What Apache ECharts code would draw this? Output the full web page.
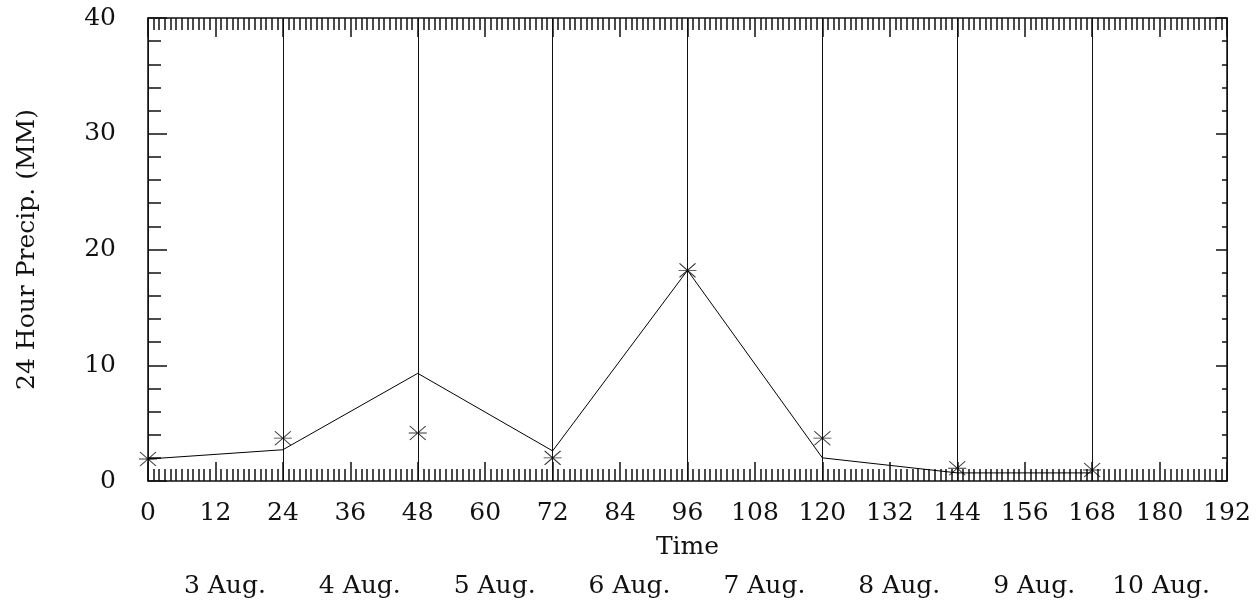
<!DOCTYPE html>
<html>
<head>
<meta charset="utf-8">
<script src="https://cdn.jsdelivr.net/npm/echarts@6.0.0/dist/echarts.min.js"></script>
<style>
  html, body { margin: 0; padding: 0; background: #fff; }
  #chart { width: 1257px; height: 605px; }
</style>
</head>
<body>
<div id="chart"></div>
<script>
// forecast hours (every 24 h) and the two series
var hours = [0, 24, 48, 72, 96, 120, 144, 168];
var precipLine = [1.9, 2.7, 9.3, 2.6, 18.2, 2.0, 0.7, 0.7];
var precipStars = [1.9, 3.7, 4.15, 2.0, 18.2, 3.7, 1.1, 0.95];
// day labels sit under each 24 h block (right aligned to the block end)
var dayLabels = ['3 Aug.', '4 Aug.', '5 Aug.', '6 Aug.', '7 Aug.', '8 Aug.', '9 Aug.', '10 Aug.'];

var FONT = 'DejaVu Serif';
var FS = 25;
var INK = '#111';

function pairs(xs, ys) {
    var out = [];
    for (var i = 0; i < xs.length; i++) {
        out.push([xs[i], ys[i]]);
    }
    return out;
}

var chart = echarts.init(document.getElementById('chart'));

var hourAxis = {
    type: 'value',
    min: 0,
    max: 192,
    interval: 12,
    axisLine: { show: true, onZero: false, lineStyle: { color: INK, width: 1.5 } },
    axisTick: { show: true, inside: true, length: 19, lineStyle: { color: INK, width: 1.5 } },
    minorTick: { show: true, splitNumber: 12, length: 12, lineStyle: { color: INK, width: 1.5 } },
    splitLine: { show: false },
    minorSplitLine: { show: false }
};

var options = {
    backgroundColor: '#fff',
    animation: false,
    grid: {
        left: 148,
        right: 30,
        top: 18,
        bottom: 124,
        containLabel: false
    },
    xAxis: [
        echarts.util.merge({
            position: 'bottom',
            name: 'Time',
            nameLocation: 'middle',
            nameGap: 54,
            nameTextStyle: { fontFamily: FONT, fontSize: FS, color: INK },
            axisLabel: { show: true, margin: 20, fontFamily: FONT, fontSize: FS, color: INK }
        }, hourAxis, true),
        echarts.util.merge({
            position: 'top',
            axisLabel: { show: false }
        }, hourAxis, true),
        {
            // day axis: full height lines every 24 h plus the date row
            type: 'value',
            position: 'bottom',
            min: 0,
            max: 192,
            interval: 24,
            axisLine: { show: false },
            axisTick: { show: false },
            splitLine: { show: true, lineStyle: { color: INK, width: 1 } },
            axisLabel: {
                show: true,
                margin: 93,
                align: 'right',
                padding: [0, 17, 0, 0],
                showMinLabel: true,
                showMaxLabel: true,
                fontFamily: FONT,
                fontSize: FS,
                color: INK,
                formatter: function (v) {
                    var k = Math.round(v / 24) - 1;
                    return k >= 0 && k < dayLabels.length ? dayLabels[k] : '';
                }
            }
        }
    ],
    yAxis: [
        {
            type: 'value',
            position: 'left',
            min: 0,
            max: 40,
            interval: 10,
            name: '24 Hour Precip. (MM)',
            nameLocation: 'middle',
            nameGap: 108,
            nameRotate: 90,
            nameTextStyle: { fontFamily: FONT, fontSize: FS, color: INK },
            axisLine: { show: true, onZero: false, lineStyle: { color: INK, width: 1.5 } },
            axisTick: { show: true, inside: true, length: 19, lineStyle: { color: INK, width: 1.5 } },
            minorTick: { show: true, splitNumber: 5, length: 13, lineStyle: { color: INK, width: 1.5 } },
            splitLine: { show: false },
            axisLabel: { margin: 32, fontFamily: FONT, fontSize: FS, color: INK }
        },
        {
            type: 'value',
            position: 'right',
            min: 0,
            max: 40,
            interval: 10,
            axisLine: { show: true, onZero: false, lineStyle: { color: INK, width: 1.5 } },
            axisTick: { show: true, inside: true, length: 11, lineStyle: { color: INK, width: 1.5 } },
            minorTick: { show: true, splitNumber: 5, length: 5, lineStyle: { color: INK, width: 1.5 } },
            splitLine: { show: false },
            axisLabel: { show: false }
        }
    ],
    series: [
        {
            name: 'precip',
            type: 'line',
            xAxisIndex: 0,
            yAxisIndex: 0,
            data: pairs(hours, precipLine),
            showSymbol: false,
            symbol: 'none',
            lineStyle: { color: '#000', width: 1 },
            z: 5
        },
        {
            name: 'observed',
            type: 'scatter',
            xAxisIndex: 0,
            yAxisIndex: 0,
            data: pairs(hours, precipStars),
            symbol: 'path://M0,7L18,7M1,1L17,13M1,13L17,1',
            symbolSize: [18, 14],
            itemStyle: { color: 'none', borderColor: '#000', borderWidth: 1 },
            z: 6
        }
    ]
};

chart.setOption(options);
window.onresize = function () {
    chart.resize();
};
</script>
</body>
</html>
